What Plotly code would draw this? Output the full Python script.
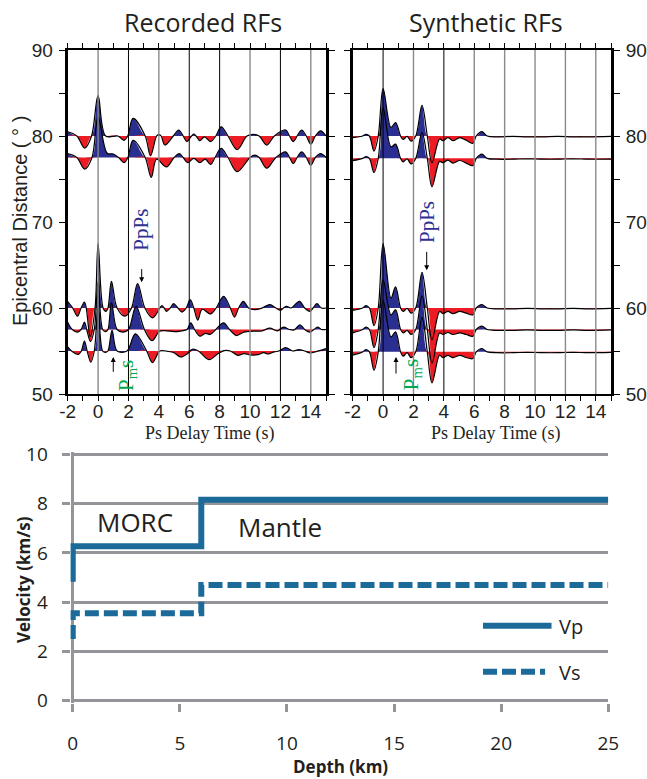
import plotly.graph_objects as go

# ---------------- data: recorded receiver functions (time s, amplitude deg) ----------------
rec80_t = [-2.0, -1.4, -0.88, -0.43, 0.0, 0.5, 1.3, 1.7, 1.95, 2.3, 3.1, 3.45, 3.85, 4.0, 4.15, 4.4, 4.95, 5.3, 5.6, 5.85,
           6.15, 6.3, 6.45, 6.7, 7.0, 7.4, 7.75, 8.1, 8.55, 9.15, 9.8, 10.2, 10.6, 11.1, 11.6, 12.35, 12.6, 12.85, 13.1,
           13.4, 13.7, 14.0, 14.3, 14.65, 15.0]
rec80_a = [0.5, 0, -1.4, 0, 4.7, 0, 0, -0.5, 0, 2.05, 0, -2.3, 0, 0.2, 0, -1.05, 0, 0.7, 0, -0.65,
           0, 0.23, 0, -0.55, -0.1, -0.65, 0, 1.05, 0, -1.6, 0, 0.2, 0, -1.05, 0, 0.7, 0, -0.65, 0,
           0.7, 0, -0.95, 0, 0.6, 0]

rec77_t = [-2.0, -1.4, -0.88, -0.4, 0.0, 0.6, 1.0, 1.35, 1.7, 1.96, 2.3, 3.1, 3.5, 3.85, 4.5, 5.0, 5.35, 5.6, 5.9, 6.3,
           6.7, 7.05, 7.4, 7.7, 8.1, 8.55, 9.15, 10.0, 10.3, 10.6, 11.1, 11.7, 12.35, 12.6, 12.85, 13.1, 13.4, 13.7,
           14.0, 14.3, 14.65, 15.0]
rec77_a = [0.45, 0, -1.35, 0, 4.7, 0.5, 0.4, 0, -0.6, 0, 2.0, 0, -2.3, -0.2, -1.1, 0, 0.45, 0, -0.6, -0.1,
           -0.6, -0.2, -0.8, 0, 1.05, 0, -1.65, 0, 0.27, 0, -1.25, 0, 0.65, 0, -0.7, 0, 0.65, 0,
           -0.9, 0, 0.45, 0]

rec60_t = [-2.0, -1.67, -1.36, -1.12, -0.9, -0.78, -0.52, -0.2, 0.0, 0.33, 0.52, 0.65, 0.88, 1.25, 1.77, 2.2, 2.6, 3.08,
           3.58, 4.07, 4.2, 4.35, 4.5, 4.75, 4.97, 5.25, 5.53, 5.8, 6.06, 6.3, 6.56, 6.85, 7.4, 7.77, 8.26, 8.7, 8.98,
           9.25, 9.56, 9.9, 10.3, 10.8, 11.3, 11.7, 12.0, 12.2, 12.4, 12.7, 13.25, 13.6, 13.95, 14.15, 14.4, 14.7, 15.0]
rec60_a = [0.75, 0, -0.95, 0, 0.7, 0, -3.3, 0, 7.5, 0, -0.4, 0, 3.1, 0, -0.95, 0, 2.85, 0,
           -1.15, 0, 0.27, 0, -0.39, 0, 0.5, 0, -0.47, 0, 0.97, 0, -1.4, -0.15, -0.7, 0, 1.36, 0, -1.05,
           0, 0.78, 0, -0.2, 0, 0.4, 0, -0.27, 0, 0.2, 0, 0.78, 0, -0.39, 0, 0.5, 0, 0]

rec57_t = [-2.0, -1.7, -1.36, -1.12, -0.9, -0.75, -0.5, -0.25, 0.0, 0.3, 0.5, 0.65, 0.88, 1.25, 1.65, 2.0, 2.5, 3.05,
           3.55, 4.05, 4.5, 5.0, 5.5, 5.85, 6.1, 6.35, 6.7, 7.05, 7.4, 7.75, 8.26, 8.65, 9.1, 9.6, 10.2, 10.8, 11.3,
           11.8, 12.2, 12.6, 12.9, 13.28, 13.6, 13.95, 14.2, 14.45, 14.7, 15.0]
rec57_a = [0.85, 0, -0.3, 0, 0.85, 0, -1.4, 0, 5.5, 0, -0.25, 0, 3.1, 0, -0.3, 0, 2.7, 0,
           -1.3, -0.2, -0.15, -0.25, -0.15, 0, 0.78, 0, -0.78, -0.45, -0.55, 0, 0.78, 0, -0.7, -0.3, -0.2, -0.15, 0.15,
           -0.15, 0.27, 0, -0.05, 0.55, 0, -0.3, 0, 0.27, 0, 0]

rec55_t = [-2.0, -1.75, -1.3, -1.1, -0.9, -0.72, -0.48, -0.25, 0.0, 0.3, 0.5, 0.65, 0.92, 1.25, 1.9, 2.45, 3.2, 3.58,
           4.07, 4.6, 5.0, 5.43, 5.9, 6.2, 6.6, 7.3, 7.9, 8.3, 8.7, 9.2, 9.6, 10.0, 10.5, 10.9, 11.2, 11.6, 11.9,
           12.35, 12.8, 13.2, 13.6, 13.95, 14.4, 15.0]
rec55_a = [0.47, 0, -0.4, 0, 1.15, 0, -1.3, 0, 5.0, 0, -0.15, 0, 2.4, 0, 0, 2.0, 0, -1.35,
           0, -0.05, -0.2, -0.7, -0.3, 0.2, 0, -1.0, -0.3, 0.05, 0, -0.5, -0.3, -0.45, -0.43, -0.2, -0.35, -0.1, 0,
           0.39, 0, 0.15, 0, -0.23, -0.05, 0.27]

rec_baselines = [80, 77.5, 60, 57.5, 55]

# ---------------- data: synthetic receiver functions ----------------
syn_t = [-2.0, -1.35, -1.12, -0.9, -0.6, -0.32, 0.0, 0.52, 0.82, 1.15, 1.32, 1.58, 1.84, 2.15, 2.56, 2.91, 3.22, 3.72,
         3.94, 4.27, 4.6, 5.04, 5.47, 5.91, 6.13, 6.5, 6.85, 7.5, 8.5, 9.5, 10.5, 11.5, 12.5, 13.5, 15.0]
syn80_a = [-0.2, 0, 0.2, 0, -1.75, 0, 5.5, 1.0, 1.55, 0, -0.4, -0.05, -0.6, 0, 3.55, 0, -3.1, -0.35,
           -0.55, -0.2, -0.55, -0.2, -0.5, -0.85, 0, 0.5, 0, -0.1, -0.05, -0.1, -0.1, -0.05, -0.1, -0.1, -0.05]
syn77_a = [-0.27, 0, 0.2, 0, -1.65, 0, 5.9, 1.35, 1.65, 0, -0.4, -0.05, -0.65, 0, 3.0, 0, -3.3, -0.35,
           -0.5, -0.2, -0.55, -0.25, -0.55, -0.85, 0, 0.5, 0, -0.1, -0.1, -0.05, -0.1, -0.1, -0.05, -0.1, -0.1]
syn60_a = [-0.27, 0, 0.27, 0, -2.05, 0, 7.5, 1.15, 2.45, 0, -0.4, -0.05, -0.6, 0, 4.15, 0, -3.7, -0.4,
           -0.66, -0.4, -0.66, -0.4, -0.6, -0.78, 0, 0.39, 0, -0.1, -0.1, -0.05, -0.1, -0.1, -0.05, -0.1, -0.05]
syn57_a = [-0.39, 0, 0.27, 0, -2.1, 0, 5.8, 1.7, 2.3, 0, -0.4, -0.1, -0.58, 0, 3.9, 0, -3.9, -0.4,
           -0.58, -0.35, -0.58, -0.4, -0.58, -0.78, 0, 0.39, 0, -0.1, -0.1, -0.05, -0.1, -0.1, -0.05, -0.1, -0.05]
syn55_a = [-0.39, 0, 0.27, 0, -2.13, 0, 6.0, 1.74, 2.33, 0, -0.5, -0.1, -0.66, 0, 4.0, 0, -3.6, -0.4,
           -0.66, -0.4, -0.66, -0.4, -0.66, -0.78, 0, 0.39, 0, -0.1, -0.1, -0.05, -0.1, -0.1, -0.05, -0.1, -0.05]
syn_baselines = [80, 77.4, 60, 57.5, 54.9]

# ---------------- data: velocity model ----------------
vp_depth = [0, 0, 6, 6, 25]
vp_vel = [4.83, 6.27, 6.27, 8.15, 8.15]
vs_depth = [0, 0, 6, 6, 25]
vs_vel = [2.5, 3.55, 3.55, 4.7, 4.7]

# tick labels
rf_xticks = list(range(-2, 16))
rf_yticks = list(range(50, 91, 5))
vel_xticks = [0, 5, 10, 15, 20, 25]
vel_yticks = [0, 2, 4, 6, 8, 10]
grid_t = [0, 2, 4, 6, 8, 10, 12, 14]

# ---------------- styles ----------------
BLUE = "rgb(43,46,145)"
RED = "rgb(237,28,36)"
GREEN = "rgb(0,166,81)"
TXTBLUE = "rgb(46,49,146)"
VCOL = "#1c6a99"
GRAY = "#939598"
GRIDGRAY = "#8a8a8a"
rec_grid_cols = [GRIDGRAY, "black", GRIDGRAY, "black", "black", GRIDGRAY, "black", GRIDGRAY]
syn_grid_cols = ["black", GRIDGRAY, "black", GRIDGRAY, GRIDGRAY, GRIDGRAY, GRIDGRAY, GRIDGRAY]
VS_DASH = "14px,5px"

W, H = 647, 779
SANS = "Liberation Sans, Arial, sans-serif"
SERIF = "Liberation Serif, Times New Roman, serif"
MYR = "Open Sans, sans-serif"

fig = go.Figure()


def add_fills(t, a, base, xa, ya):
    pos = [max(v, 0) for v in a]
    neg = [min(v, 0) for v in a]
    yb = [base] * len(t)
    for part, col in ((pos, BLUE), (neg, RED)):
        fig.add_trace(go.Scatter(x=t, y=yb, mode="lines", line=dict(width=0),
                                 xaxis=xa, yaxis=ya, hoverinfo="skip", showlegend=False))
        fig.add_trace(go.Scatter(x=t, y=[base + v for v in part], mode="lines",
                                 line=dict(width=0, shape="spline", smoothing=1),
                                 fill="tonexty", fillcolor=col,
                                 xaxis=xa, yaxis=ya, hoverinfo="skip", showlegend=False))


def add_line(t, a, base, xa, ya):
    fig.add_trace(go.Scatter(x=t, y=[base + v for v in a], mode="lines",
                             line=dict(color="black", width=1.2, shape="spline", smoothing=1),
                             xaxis=xa, yaxis=ya, hoverinfo="skip", showlegend=False))


rec_sets = [(rec80_t, rec80_a), (rec77_t, rec77_a), (rec60_t, rec60_a), (rec57_t, rec57_a), (rec55_t, rec55_a)]
syn_sets = [(syn_t, syn80_a), (syn_t, syn77_a), (syn_t, syn60_a), (syn_t, syn57_a), (syn_t, syn55_a)]

for (t, a), b in zip(rec_sets, rec_baselines):
    add_fills(t, a, b, "x", "y")
for (t, a), b in zip(syn_sets, syn_baselines):
    add_fills(t, a, b, "x2", "y2")
for (t, a), b in zip(rec_sets, rec_baselines):
    add_line(t, a, b, "x", "y")
for (t, a), b in zip(syn_sets, syn_baselines):
    add_line(t, a, b, "x2", "y2")

# velocity model
fig.add_trace(go.Scatter(x=vp_depth, y=vp_vel, mode="lines", line=dict(color=VCOL, width=6),
                         xaxis="x3", yaxis="y3", showlegend=False, hoverinfo="skip"))
fig.add_trace(go.Scatter(x=vs_depth, y=vs_vel, mode="lines", line=dict(color=VCOL, width=6, dash=VS_DASH),
                         xaxis="x3", yaxis="y3", showlegend=False, hoverinfo="skip"))

shapes = []
for tv, c in zip(grid_t, rec_grid_cols):
    shapes.append(dict(type="line", xref="x", yref="y domain", x0=tv, x1=tv, y0=0, y1=1,
                       line=dict(color=c, width=1.4 if c != "black" else 1.0), layer="above"))
for tv, c in zip(grid_t, syn_grid_cols):
    shapes.append(dict(type="line", xref="x2", yref="y2 domain", x0=tv, x1=tv, y0=0, y1=1,
                       line=dict(color=c, width=1.4 if c != "black" else 1.0), layer="above"))
# legend keys for velocity panel
shapes.append(dict(type="line", xref="x3", yref="y3", x0=19.15, x1=22.35, y0=3.04, y1=3.04,
                   line=dict(color=VCOL, width=6)))
shapes.append(dict(type="line", xref="x3", yref="y3", x0=19.15, x1=22.05, y0=1.18, y1=1.18,
                   line=dict(color=VCOL, width=6, dash=VS_DASH)))


def px2x(px):
    return px / W


def py2y(py):
    return 1 - py / H


annotations = [
    dict(text="Recorded RFs", x=px2x(203), y=py2y(22), xref="paper", yref="paper", showarrow=False,
         font=dict(family=MYR, size=25, color="#231f20"), xanchor="center", yanchor="middle"),
    dict(text="Synthetic RFs", x=px2x(486), y=py2y(22), xref="paper", yref="paper", showarrow=False,
         font=dict(family=MYR, size=25, color="#231f20"), xanchor="center", yanchor="middle"),
    dict(text="Epicentral Distance ( ° )", x=px2x(20), y=py2y(221), xref="paper", yref="paper", showarrow=False,
         textangle=-90, font=dict(family=SANS, size=20, color="#231f20"), xanchor="center", yanchor="middle"),
    dict(text="Ps Delay Time (s)", x=px2x(210), y=py2y(433), xref="paper", yref="paper", showarrow=False,
         font=dict(family=SERIF, size=18, color="#231f20"), xanchor="center", yanchor="middle"),
    dict(text="Ps Delay Time (s)", x=px2x(496), y=py2y(433), xref="paper", yref="paper", showarrow=False,
         font=dict(family=SERIF, size=18, color="#231f20"), xanchor="center", yanchor="middle"),
    # phase labels
    dict(text="PpPs", x=2.82, y=69.1, xref="x", yref="y", showarrow=False, textangle=-90,
         font=dict(family=SERIF, size=21, color=TXTBLUE), xanchor="center", yanchor="middle"),
    dict(text="PpPs", x=2.89, y=70.0, xref="x2", yref="y2", showarrow=False, textangle=-90,
         font=dict(family=SERIF, size=21, color=TXTBLUE), xanchor="center", yanchor="middle"),
    dict(text="P<sub>m</sub>s", x=1.9, y=52.2, xref="x", yref="y", showarrow=False, textangle=-90,
         font=dict(family=SERIF, size=21, color=GREEN), xanchor="center", yanchor="middle"),
    dict(text="P<sub>m</sub>s", x=1.9, y=52.3, xref="x2", yref="y2", showarrow=False, textangle=-90,
         font=dict(family=SERIF, size=21, color=GREEN), xanchor="center", yanchor="middle"),
    # arrows
    dict(text="", x=2.87, y=63.0, ax=2.87, ay=64.7, xref="x", yref="y", axref="x", ayref="y",
         showarrow=True, arrowhead=2, arrowsize=1, arrowwidth=1, arrowcolor="black", standoff=0),
    dict(text="", x=2.87, y=64.4, ax=2.87, ay=66.7, xref="x2", yref="y2", axref="x2", ayref="y2",
         showarrow=True, arrowhead=2, arrowsize=1, arrowwidth=1, arrowcolor="black", standoff=0),
    dict(text="", x=1.0, y=54.3, ax=1.0, ay=52.4, xref="x", yref="y", axref="x", ayref="y",
         showarrow=True, arrowhead=2, arrowsize=1, arrowwidth=1, arrowcolor="black", standoff=0),
    dict(text="", x=0.85, y=54.3, ax=0.85, ay=52.2, xref="x2", yref="y2", axref="x2", ayref="y2",
         showarrow=True, arrowhead=2, arrowsize=1, arrowwidth=1, arrowcolor="black", standoff=0),
    # velocity panel
    dict(text="MORC", x=2.91, y=7.25, xref="x3", yref="y3", showarrow=False,
         font=dict(family=MYR, size=26, color="#231f20"), xanchor="center", yanchor="middle"),
    dict(text="Mantle", x=9.68, y=7.05, xref="x3", yref="y3", showarrow=False,
         font=dict(family=MYR, size=26, color="#231f20"), xanchor="center", yanchor="middle"),
    dict(text="Vp", x=22.6, y=3.0, xref="x3", yref="y3", showarrow=False,
         font=dict(family=MYR, size=20, color="#231f20"), xanchor="left", yanchor="middle"),
    dict(text="Vs", x=22.6, y=1.15, xref="x3", yref="y3", showarrow=False,
         font=dict(family=MYR, size=20, color="#231f20"), xanchor="left", yanchor="middle"),
    dict(text="<b>Velocity (km/s)</b>", x=px2x(23), y=py2y(580), xref="paper", yref="paper", showarrow=False,
         textangle=-90, font=dict(family=MYR, size=17, color="#231f20"), xanchor="center", yanchor="middle"),
    dict(text="<b>Depth (km)</b>", x=px2x(340), y=py2y(766), xref="paper", yref="paper", showarrow=False,
         font=dict(family=MYR, size=17, color="#231f20"), xanchor="center", yanchor="middle"),
]

rf_xtext = [str(v) if v % 2 == 0 else "" for v in rf_xticks]
rf_ytext = [str(v) if v % 10 == 0 else "" for v in rf_yticks]

common_x = dict(range=[-2, 15], tickvals=rf_xticks, ticktext=rf_xtext, ticks="outside", ticklen=5,
                tickwidth=1, tickcolor="black", mirror="ticks", showline=True, linecolor="black",
                linewidth=1.5, showgrid=False, zeroline=False, automargin=False,
                tickfont=dict(family=SANS, size=19, color="#231f20"), ticklabelstandoff=-6)
common_y = dict(range=[50, 90], tickvals=rf_yticks, ticktext=rf_ytext, ticks="outside", ticklen=6,
                tickwidth=1, tickcolor="black", mirror="ticks", showline=True, linecolor="black",
                linewidth=3, showgrid=False, zeroline=False, automargin=False,
                tickfont=dict(family=SANS, size=19, color="#231f20"), ticklabelstandoff=2)

fig.update_layout(
    width=W, height=H, margin=dict(l=0, r=0, t=0, b=0, autoexpand=False),
    paper_bgcolor="white", plot_bgcolor="white", showlegend=False,
    xaxis=dict(domain=[67.7 / W, 326 / W], anchor="y", **common_x),
    yaxis=dict(domain=[1 - 394 / H, 1 - 50 / H], anchor="x", side="left", **common_y),
    xaxis2=dict(domain=[352.7 / W, 611 / W], anchor="y2", **common_x),
    yaxis2=dict(domain=[1 - 394 / H, 1 - 50 / H], anchor="x2", side="right", **common_y),
    xaxis3=dict(domain=[70.6 / W, 608.3 / W], anchor="y3", range=[-0.1, 25], tickvals=vel_xticks,
                ticks="outside", ticklen=8, tickwidth=3, tickcolor=GRAY, showgrid=False, showline=False,
                zeroline=True, zerolinecolor=GRAY, zerolinewidth=3, automargin=False,
                tickfont=dict(family=MYR, size=19, color="#231f20"), ticklabelstandoff=15),
    yaxis3=dict(domain=[1 - 703.2 / H, 1 - 451.8 / H], anchor="x3", range=[-0.1, 10.1], tickvals=vel_yticks,
                ticks="outside", ticklen=8, tickwidth=3, tickcolor=GRAY, showgrid=True, gridcolor=GRAY,
                gridwidth=3, showline=False, zeroline=False, automargin=False,
                tickfont=dict(family=MYR, size=19, color="#231f20"), ticklabelstandoff=10),
    shapes=shapes, annotations=annotations,
)

fig.write_html("out.html")
